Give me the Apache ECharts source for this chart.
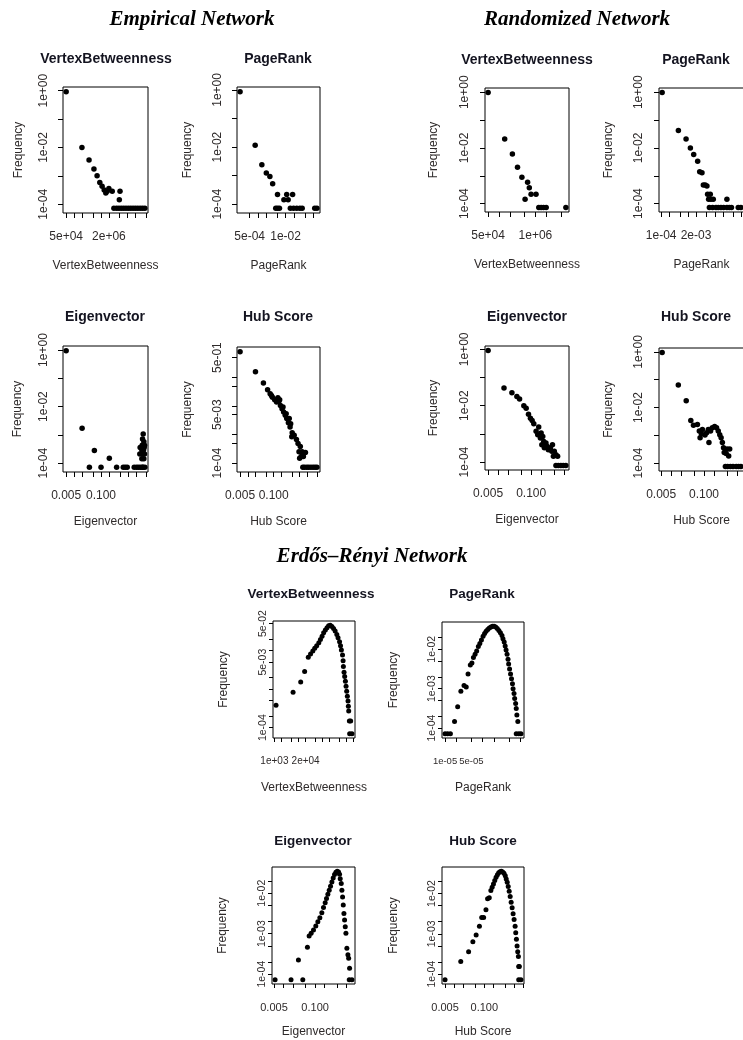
<!DOCTYPE html>
<html>
<head>
<meta charset="utf-8">
<script src="https://cdn.jsdelivr.net/npm/echarts@6/dist/echarts.min.js"></script>
<style>
html, body { margin: 0; padding: 0; background: #fff; }
#main { width: 743px; height: 1040px; }
</style>
</head>
<body>
<div id="main"></div>
<script>
// ---- data (x = centrality value, y = frequency) ----
// Empirical network
const empVbX = [5.0e4, 1.95e5, 3.6e5, 5.5e5, 7.2e5, 9.1e5, 1.11e6, 1.33e6, 1.53e6, 1.72e6, 1.99e6, 2.66e6, 5.2e6, 4.9e6, 3.07e6,
  3.87e6, 4.74e6, 5.81e6, 7.13e6, 8.73e6, 1.07e7, 1.31e7, 1.6e7, 1.96e7, 2.4e7, 2.95e7, 3.61e7, 4.43e7];
const empVbY = [0.92, 1.0e-2, 3.6e-3, 1.75e-3, 1.0e-3, 5.8e-4, 4.3e-4, 3.2e-4, 2.5e-4, 2.9e-4, 3.6e-4, 2.9e-4, 2.9e-4, 1.44e-4, 7.2e-5,
  7.2e-5, 7.2e-5, 7.2e-5, 7.2e-5, 7.2e-5, 7.2e-5, 7.2e-5, 7.2e-5, 7.2e-5, 7.2e-5, 7.2e-5, 7.2e-5, 7.2e-5];

const empPrX = [2.24e-4, 7.9e-4, 1.38e-3, 2.0e-3, 2.7e-3, 3.4e-3, 5.1e-3, 4.4e-3, 5.1e-3, 6.0e-3, 8.7e-3, 1.1e-2, 1.24e-2,
  1.49e-2, 1.95e-2, 2.54e-2, 3.3e-2, 4.0e-2, 1.8e-2, 0.114, 0.137];
const empPrY = [0.87, 1.16e-2, 2.42e-3, 1.23e-3, 9.4e-4, 5.2e-4, 2.2e-4, 7.2e-5, 7.2e-5, 7.2e-5, 1.44e-4, 2.2e-4, 1.44e-4,
  7.2e-5, 7.2e-5, 7.2e-5, 7.2e-5, 7.2e-5, 2.2e-4, 7.2e-5, 7.2e-5];

const empEigX = [0.005, 0.0197, 0.0368, 0.0565, 0.1, 0.204, 0.382, 0.676, 0.80, 0.95, 1.73, 2.12, 2.51, 2.99, 3.54,
  3.75, 3.54, 3.97, 4.2, 3.44, 4.08, 3.34, 3.86, 3.54, 4.2, 3.34, 3.97, 4.32, 3.65, 2.88, 2.8];
const empEigY = [0.95, 1.72e-3, 7.1e-5, 2.8e-4, 7.1e-5, 1.5e-4, 7.1e-5, 7.1e-5, 7.1e-5, 7.1e-5, 7.1e-5, 7.1e-5, 7.1e-5, 7.1e-5, 7.1e-5,
  1.07e-3, 7.1e-4, 5.7e-4, 4.3e-4, 4.3e-4, 3.6e-4, 2.9e-4, 2.9e-4, 2.1e-4, 2.1e-4, 1.43e-4, 1.43e-4, 7.1e-5, 7.1e-5, 3.6e-4, 2.1e-4];

const empHubX = [0.005, 0.0197, 0.040, 0.058, 0.073, 0.089, 0.109, 0.129, 0.158, 0.182, 0.17, 0.21, 0.242, 0.28, 0.32, 0.40,
  0.37, 0.43, 0.52, 0.50, 0.62, 0.76, 0.875, 0.955, 1.07, 1.16, 1.26, 1.41, 1.69, 1.01, 1.34,
  1.55, 1.89, 2.24, 2.74, 3.34, 3.98, 4.71, 0.082, 0.145, 0.229, 0.304, 0.454];
const empHubY = [0.81, 0.159, 0.065, 0.037, 0.027, 0.0205, 0.0166, 0.0138, 0.0145, 0.0105, 0.0166, 8.1e-3, 6.2e-3, 4.8e-3, 3.7e-3, 3.7e-3,
  2.6e-3, 1.86e-3, 1.15e-3, 8.4e-4, 9.5e-4, 6.8e-4, 4.9e-4, 2.5e-4, 3.8e-4, 1.7e-4, 2.5e-4, 1.7e-4, 2.35e-4, 1.49e-4, 7.1e-5,
  7.1e-5, 7.1e-5, 7.1e-5, 7.1e-5, 7.1e-5, 7.1e-5, 7.1e-5, 0.0234, 0.0195, 9.2e-3, 5.4e-3, 2.4e-3];

// Randomized network
const randVbX = [5.0e4, 1.43e5, 2.33e5, 3.22e5, 4.25e5, 6.1e5, 6.8e5, 7.6e5, 1.04e6, 5.2e5, 1.24e6, 1.44e6, 1.67e6, 1.98e6, 6.9e6];
const randVbY = [0.97, 2.1e-2, 6.1e-3, 2.04e-3, 8.9e-4, 5.9e-4, 3.7e-4, 2.15e-4, 2.15e-4, 1.42e-4, 7.3e-5, 7.3e-5, 7.3e-5, 7.3e-5, 7.3e-5];

const randPrX = [1.09e-4, 4.4e-4, 8.5e-4, 1.23e-3, 1.64e-3, 2.3e-3, 2.74e-3, 3.34e-3, 3.75e-3, 4.4e-3, 5.1e-3, 5.4e-3, 6.8e-3, 5.9e-3,
  7.2e-3, 8.8e-3, 6.3e-3, 8.3e-3, 1.11e-2, 1.35e-2, 1.7e-2, 2.14e-2, 2.84e-2, 3.47e-2, 4.2e-2, 7.5e-2, 9.4e-2, 2.84e-2];
const randPrY = [0.97, 4.2e-2, 2.1e-2, 1.0e-2, 5.8e-3, 3.3e-3, 1.39e-3, 1.28e-3, 4.7e-4, 4.7e-4, 4.3e-4, 2.15e-4, 2.15e-4, 1.42e-4,
  1.42e-4, 1.42e-4, 7.3e-5, 7.3e-5, 7.3e-5, 7.3e-5, 7.3e-5, 7.3e-5, 7.3e-5, 7.3e-5, 7.3e-5, 7.3e-5, 7.3e-5, 1.42e-4];

const randEigX = [0.005, 0.0151, 0.0262, 0.037, 0.0446, 0.060, 0.0706, 0.083, 0.095, 0.107, 0.12, 0.169, 0.141, 0.158, 0.20,
  0.224, 0.19, 0.24, 0.28, 0.21, 0.25, 0.30, 0.33, 0.38, 0.42, 0.44, 0.5, 0.56, 0.47, 0.63, 0.56, 0.66, 0.79, 0.93, 1.12];
const randEigY = [0.90, 4.2e-2, 2.9e-2, 2.1e-2, 1.74e-2, 9.9e-3, 8.1e-3, 5.0e-3, 3.6e-3, 3.0e-3, 2.27e-3, 1.74e-3, 1.23e-3, 9.3e-4, 1.07e-3,
  8.1e-4, 7.1e-4, 5.4e-4, 4.7e-4, 4.1e-4, 3.2e-4, 3.6e-4, 2.75e-4, 3.2e-4, 2.4e-4, 4.1e-4, 2.4e-4, 1.8e-4, 1.6e-4, 1.6e-4,
  7.6e-5, 7.6e-5, 7.6e-5, 7.6e-5, 7.6e-5];

const randHubX = [0.00536, 0.0166, 0.0288, 0.0397, 0.0478, 0.063, 0.072, 0.083, 0.089, 0.076, 0.107, 0.12, 0.135, 0.141, 0.158,
  0.178, 0.21, 0.24, 0.27, 0.30, 0.33, 0.36, 0.39, 0.41, 0.5, 0.6, 0.56, 0.47, 0.445, 0.52, 0.63, 0.757, 0.95, 1.12, 1.31];
const randHubY = [0.95, 6.5e-2, 1.75e-2, 3.4e-3, 2.3e-3, 2.45e-3, 1.42e-3, 1.15e-3, 1.62e-3, 8.2e-4, 1.02e-3, 1.23e-3, 1.62e-3, 5.5e-4, 1.42e-3,
  1.86e-3, 2.1e-3, 1.86e-3, 1.42e-3, 1.05e-3, 8.2e-4, 5.5e-4, 3.6e-4, 2.4e-4, 3.2e-4, 3.2e-4, 1.8e-4, 2.2e-4,
  7.6e-5, 7.6e-5, 7.6e-5, 7.6e-5, 7.6e-5, 7.6e-5, 7.6e-5];

// Erdős–Rényi network
const erVbX = [1.17e3, 6.0e3, 1.25e4, 1.82e4, 2.58e4, 3.21e4, 4.0e4, 4.8e4, 5.8e4, 7.1e4, 8.3e4, 9.7e4, 1.13e5, 1.33e5, 1.56e5, 1.82e5,
  2.13e5, 2.5e5, 2.92e5, 3.4e5, 4.0e5, 4.5e5, 5.2e5, 5.7e5, 6.2e5, 6.9e5, 7.3e5, 7.5e5, 8.0e5, 8.5e5, 9.1e5, 9.7e5, 1.03e6,
  1.1e6, 1.17e6, 1.21e6, 1.25e6, 1.33e6, 1.51e6, 1.37e6, 1.71e6];
const erVbY = [3.8e-4, 8.3e-4, 1.52e-3, 2.86e-3, 6.7e-3, 8.1e-3, 9.7e-3, 1.14e-2, 1.33e-2, 1.59e-2, 1.94e-2, 2.36e-2, 2.88e-2, 3.4e-2, 3.9e-2, 4.4e-2,
  4.5e-2, 4.2e-2, 3.7e-2, 3.2e-2, 2.6e-2, 2.14e-2, 1.69e-2, 1.33e-2, 1.03e-2, 7.7e-3, 5.4e-3, 3.85e-3, 2.75e-3, 2.13e-3, 1.59e-3, 1.18e-3, 8.8e-4,
  6.5e-4, 4.9e-4, 3.6e-4, 2.7e-4, 1.48e-4, 1.48e-4, 7.0e-5, 7.0e-5];

const erPrX = [1.0e-5, 1.17e-5, 1.39e-5, 1.79e-5, 2.17e-5, 2.64e-5, 3.2e-5, 3.67e-5, 4.1e-5, 4.7e-5, 5.2e-5, 5.7e-5, 6.3e-5,
  6.95e-5, 7.7e-5, 8.45e-5, 9.3e-5, 1.03e-4, 1.13e-4, 1.24e-4, 1.37e-4, 1.51e-4, 1.67e-4, 1.84e-4, 2.02e-4, 2.23e-4, 2.46e-4,
  2.71e-4, 2.98e-4, 3.28e-4, 3.48e-4, 3.76e-4, 3.99e-4, 4.22e-4, 4.48e-4, 4.75e-4, 4.93e-4, 5.23e-4, 5.54e-4, 5.88e-4, 6.23e-4,
  6.47e-4, 6.86e-4, 7.14e-4, 7.57e-4, 7.86e-4, 8.17e-4, 8.66e-4, 7.86e-4, 9.2e-4, 1.05e-3];
const erPrY = [7.2e-5, 7.2e-5, 7.2e-5, 1.47e-4, 3.5e-4, 8.6e-4, 1.21e-3, 1.1e-3, 2.37e-3, 4.0e-3, 4.5e-3, 6.2e-3, 7.5e-3,
  9.1e-3, 1.17e-2, 1.41e-2, 1.71e-2, 2.15e-2, 2.51e-2, 2.87e-2, 3.16e-2, 3.48e-2, 3.69e-2, 3.83e-2, 3.83e-2, 3.69e-2, 3.35e-2,
  2.99e-2, 2.61e-2, 2.24e-2, 1.85e-2, 1.53e-2, 1.21e-2, 9.6e-3, 7.5e-3, 5.6e-3, 4.2e-3, 3.16e-3, 2.37e-3, 1.78e-3, 1.33e-3,
  1.0e-3, 7.5e-4, 5.6e-4, 4.2e-4, 3.16e-4, 2.15e-4, 1.47e-4, 7.2e-5, 7.2e-5, 7.2e-5];

const erEigX = [5.4e-3, 0.0173, 0.0407, 0.0296, 0.057, 0.0646, 0.0748, 0.0887, 0.105, 0.122, 0.141, 0.163, 0.184, 0.208, 0.229,
  0.253, 0.279, 0.307, 0.339, 0.373, 0.411, 0.454, 0.5, 0.551, 0.593, 0.622, 0.67, 0.703, 0.738, 0.776, 0.815, 0.855, 0.898, 0.943,
  1.01, 1.09, 1.15, 1.23, 1.2, 1.46];
const erEigY = [7.3e-5, 7.3e-5, 7.3e-5, 2.25e-4, 4.6e-4, 8.8e-4, 1.02e-3, 1.23e-3, 1.54e-3, 1.97e-3, 2.47e-3, 3.28e-3, 4.44e-3, 5.8e-3, 7.4e-3,
  9.4e-3, 1.19e-2, 1.49e-2, 1.9e-2, 2.38e-2, 2.88e-2, 3.28e-2, 3.47e-2, 3.35e-2, 2.93e-2, 2.29e-2, 1.73e-2, 1.19e-2, 8.1e-3, 5.1e-3, 3.16e-3, 2.17e-3, 1.49e-3, 1.02e-3,
  4.35e-4, 3.0e-4, 2.47e-4, 1.4e-4, 7.3e-5, 7.3e-5];

const erHubX = [0.005, 0.0166, 0.0302, 0.0418, 0.0536, 0.0689, 0.082, 0.095, 0.1135, 0.1285, 0.146, 0.165, 0.182, 0.201, 0.222,
  0.246, 0.272, 0.30, 0.332, 0.367, 0.405, 0.448, 0.495, 0.533, 0.575, 0.62, 0.668, 0.72, 0.776, 0.836, 0.901, 0.971, 1.05, 1.1,
  1.16, 1.22, 1.28, 1.35, 1.38, 1.45, 1.38, 1.64];
const erHubY = [7.3e-5, 2.05e-4, 3.6e-4, 6.4e-4, 9.3e-4, 1.54e-3, 2.52e-3, 2.52e-3, 3.96e-3, 7.4e-3, 7.8e-3, 1.19e-2, 1.43e-2, 1.73e-2, 2.09e-2,
  2.52e-2, 2.93e-2, 3.28e-2, 3.47e-2, 3.54e-2, 3.4e-2, 3.16e-2, 2.77e-2, 2.3e-2, 1.9e-2, 1.49e-2, 1.14e-2, 8.4e-3, 6.1e-3, 4.44e-3, 3.16e-3, 2.25e-3, 1.54e-3, 1.06e-3,
  7.3e-4, 5.0e-4, 3.6e-4, 2.72e-4, 1.55e-4, 1.55e-4, 7.3e-5, 7.3e-5];

// ---- tick values (all ticks) and labelled ticks ----
const decTicks = [1, 0.1, 0.01, 0.001, 0.0001];
const decLabels = [1, 0.01, 0.0001];
const hubYTicks = [0.5, 0.1, 0.05, 0.01, 0.005, 0.001, 0.0005, 0.0001];
const hubYLabels = [0.5, 0.005, 0.0001];
const erYTicks = [0.05, 0.02, 0.01, 0.005, 0.002, 0.001, 0.0005, 0.0002, 0.0001];
const erVbYLabels = [0.05, 0.005, 0.0001];
const erYLabels = [0.01, 0.001, 0.0001];

const empVbXTicks = [5e4, 1e5, 2e5, 5e5, 1e6, 2e6, 5e6, 1e7, 2e7, 5e7];
const empVbXLabels = [5e4, 2e6];
const empPrXTicks = [5e-4, 1e-3, 2e-3, 5e-3, 1e-2, 2e-2, 5e-2, 1e-1];
const empPrXLabels = [5e-4, 1e-2];
const randVbXTicks = [5e4, 1e5, 2e5, 5e5, 1e6, 2e6, 5e6];
const randVbXLabels = [5e4, 1e6];
const randPrXTicks = [1e-4, 2e-4, 5e-4, 1e-3, 2e-3, 5e-3, 1e-2, 2e-2, 5e-2, 1e-1];
const randPrXLabels = [1e-4, 2e-3];
const erVbXTicks = [1e3, 2e3, 5e3, 1e4, 2e4, 5e4, 1e5, 2e5, 5e5, 1e6, 2e6];
const erVbXLabels = [1e3, 2e4];
const erPrXTicks = [1e-5, 2e-5, 5e-5, 1e-4, 2e-4, 5e-4, 1e-3];
const erPrXLabels = [1e-5, 5e-5];
const scoreXTicks = [0.005, 0.01, 0.02, 0.05, 0.1, 0.2, 0.5, 1, 2, 5];
const scoreXLabels = [0.005, 0.1];

// R style labels
function fmtSci(v) {
  const e = Math.floor(Math.log10(v) + 1e-9);
  const m = Math.round(v / Math.pow(10, e));
  return m + 'e' + (e < 0 ? '-' : '+') + String(Math.abs(e)).padStart(2, '0');
}
function fmtFix(v) { return v.toFixed(3); }

// R pads a log axis by 4% of the data range on each side
function logRange(v) {
  const lo = Math.log10(Math.min(...v)), hi = Math.log10(Math.max(...v));
  const pad = 0.04 * (hi - lo);
  return [Math.pow(10, lo - pad), Math.pow(10, hi + pad)];
}

// er: the Erdős–Rényi block is printed a bit smaller; xs: x tick label size
const panels = [
  { t: 'VertexBetweenness', x: empVbX, y: empVbY, xt: empVbXTicks, xl: empVbXLabels, xf: fmtSci, yt: decTicks, yl: decLabels, box: [63, 87, 85, 126], tc: [106, 60], yGap: 38, xGap: 47, lm: 13, xs: 12 },
  { t: 'PageRank', x: empPrX, y: empPrY, xt: empPrXTicks, xl: empPrXLabels, xf: fmtSci, yt: decTicks, yl: decLabels, box: [237, 87, 83, 126], tc: [278, 60], yGap: 43, xGap: 47, lm: 13, xs: 12 },
  { t: 'Eigenvector', x: empEigX, y: empEigY, xt: scoreXTicks, xl: scoreXLabels, xf: fmtFix, yt: decTicks, yl: decLabels, box: [63, 346, 85, 126], tc: [105, 318], yGap: 39, xGap: 44, lm: 13, xs: 12 },
  { t: 'Hub Score', x: empHubX, y: empHubY, xt: scoreXTicks, xl: scoreXLabels, xf: fmtFix, yt: hubYTicks, yl: hubYLabels, box: [237, 347, 83, 125], tc: [278, 318], yGap: 43, xGap: 44, lm: 13, xs: 12 },
  { t: 'VertexBetweenness', x: randVbX, y: randVbY, xt: randVbXTicks, xl: randVbXLabels, xf: fmtSci, yt: decTicks, yl: decLabels, box: [485, 88, 84, 124], tc: [527, 61], yGap: 45, xGap: 47, lm: 14, xs: 12 },
  { t: 'PageRank', x: randPrX, y: randPrY, xt: randPrXTicks, xl: randPrXLabels, xf: fmtSci, yt: decTicks, yl: decLabels, box: [659, 88, 85, 124], tc: [696, 61], yGap: 44, xGap: 47, lm: 14, xs: 12 },
  { t: 'Eigenvector', x: randEigX, y: randEigY, xt: scoreXTicks, xl: scoreXLabels, xf: fmtFix, yt: decTicks, yl: decLabels, box: [485, 346, 84, 124], tc: [527, 318], yGap: 45, xGap: 44, lm: 14, xs: 12 },
  { t: 'Hub Score', x: randHubX, y: randHubY, xt: scoreXTicks, xl: scoreXLabels, xf: fmtFix, yt: decTicks, yl: decLabels, box: [659, 348, 85, 123], tc: [696, 318], yGap: 44, xGap: 44, lm: 14, xs: 12 },
  { t: 'VertexBetweenness', x: erVbX, y: erVbY, xt: erVbXTicks, xl: erVbXLabels, xf: fmtSci, yt: erYTicks, yl: erVbYLabels, box: [273, 621, 82, 117], tc: [311, 595], yGap: 43, xGap: 44, lm: 4, er: true, xs: 10 },
  { t: 'PageRank', x: erPrX, y: erPrY, xt: erPrXTicks, xl: erPrXLabels, xf: fmtSci, yt: erYTicks, yl: erYLabels, box: [442, 622, 82, 116], tc: [482, 595], yGap: 42, xGap: 44, lm: 4, er: true, xs: 9.5 },
  { t: 'Eigenvector', x: erEigX, y: erEigY, xt: scoreXTicks, xl: scoreXLabels, xf: fmtFix, yt: erYTicks, yl: erYLabels, box: [272, 867, 83, 117], tc: [313, 842], yGap: 43, xGap: 42, lm: 4, er: true, xs: 11 },
  { t: 'Hub Score', x: erHubX, y: erHubY, xt: scoreXTicks, xl: scoreXLabels, xf: fmtFix, yt: erYTicks, yl: erYLabels, box: [442, 867, 82, 117], tc: [483, 842], yGap: 42, xGap: 42, lm: 4, er: true, xs: 11 }
];

const sans = 'Liberation Sans, Arial, sans-serif';
const txt = '#2e2a2a';

const option = {
  animation: false,
  backgroundColor: '#fff',
  title: [
    { text: 'Empirical Network', left: 192, top: 9 },
    { text: 'Randomized Network', left: 577, top: 9 },
    { text: 'Erdős–Rényi Network', left: 372, top: 546 }
  ].map(o => Object.assign(o, {
    textAlign: 'center', padding: 0,
    textStyle: { fontFamily: 'Liberation Serif, serif', fontStyle: 'italic', fontWeight: 'bold', fontSize: 21, color: '#000' }
  })).concat(panels.map(p => ({
    text: p.t, left: p.tc[0], top: p.tc[1] - 8, textAlign: 'center', padding: 0,
    textStyle: { fontFamily: sans, fontWeight: 'bold', fontSize: p.er ? 13.5 : 14, color: '#141420' }
  }))),
  grid: panels.map(p => ({
    left: p.box[0], top: p.box[1], width: p.box[2], height: p.box[3],
    show: true, borderColor: '#000', borderWidth: 1, backgroundColor: 'transparent',
    containLabel: false, outerBoundsMode: 'none'
  })),
  xAxis: panels.map((p, i) => {
    const r = logRange(p.x);
    return {
      gridIndex: i, type: 'log', logBase: 10, min: r[0], max: r[1],
      name: p.t, nameLocation: 'middle', nameGap: p.xGap,
      nameTextStyle: { fontFamily: sans, fontSize: 12, color: txt },
      axisLine: { show: false },
      axisTick: { show: true, length: p.er ? 4 : 5, customValues: p.xt.filter(v => v >= r[0] && v <= r[1]), lineStyle: { color: '#000', width: 1 } },
      axisLabel: {
        show: true, customValues: p.xl, margin: 18, hideOverlap: false, showMinLabel: true, showMaxLabel: true,
        fontFamily: sans, fontSize: p.xs, color: txt, formatter: v => p.xf(v)
      },
      splitLine: { show: false }, minorTick: { show: false }
    };
  }),
  yAxis: panels.map((p, i) => {
    const r = logRange(p.y);
    return {
      gridIndex: i, type: 'log', logBase: 10, min: r[0], max: r[1],
      name: 'Frequency', nameLocation: 'middle', nameGap: p.yGap,
      nameTextStyle: { fontFamily: sans, fontSize: 12, color: txt },
      axisLine: { show: false },
      axisTick: { show: true, length: p.er ? 4 : 5, customValues: p.yt.filter(v => v >= r[0] && v <= r[1]), lineStyle: { color: '#000', width: 1 } },
      axisLabel: {
        show: true, customValues: p.yl, rotate: 90, margin: p.lm, hideOverlap: false, showMinLabel: true, showMaxLabel: true,
        fontFamily: sans, fontSize: p.er ? 10.5 : 12, color: txt, formatter: v => fmtSci(v)
      },
      splitLine: { show: false }, minorTick: { show: false }
    };
  }),
  series: panels.map((p, i) => ({
    type: 'scatter', xAxisIndex: i, yAxisIndex: i, silent: true,
    symbol: 'circle', symbolSize: p.er ? 5 : 5.5,
    itemStyle: { color: '#000', opacity: 1 },
    data: p.x.map((v, k) => [v, p.y[k]])
  }))
};

const chart = echarts.init(document.getElementById('main'), null, { renderer: 'canvas' });
chart.setOption(option);
</script>
</body>
</html>
